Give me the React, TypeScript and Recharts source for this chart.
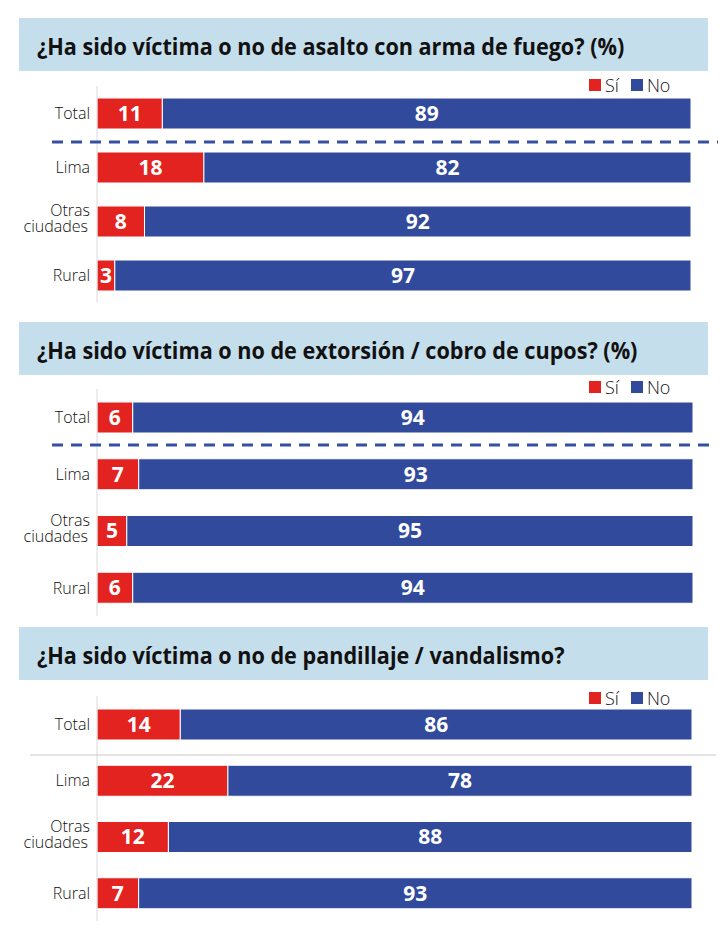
import React from 'react'
import { BarChart, Bar, XAxis, YAxis, LabelList } from 'recharts'

const RED = '#e3231f'
const BLUE = '#314a9b'
const BAND = '#c5deec'
const FONT = "'Open Sans', 'Noto Sans', sans-serif"

const categorias = ['Total', 'Lima', 'Otras ciudades', 'Rural']

const titulos = [
  '¿Ha sido víctima o no de asalto con arma de fuego? (%)',
  '¿Ha sido víctima o no de extorsión / cobro de cupos? (%)',
  '¿Ha sido víctima o no de pandillaje / vandalismo?',
]

const asaltoSi = [11, 18, 8, 3]
const asaltoNo = [89, 82, 92, 97]
const extorsionSi = [6, 7, 5, 6]
const extorsionNo = [94, 93, 95, 94]
const pandillajeSi = [14, 22, 12, 7]
const pandillajeNo = [86, 78, 88, 93]

const build = (si: number[], no: number[]) =>
  categorias.map((c, i) => ({ cat: c, si: si[i], no: no[i] }))

// layout of each panel (px)
const panels = [
  { data: build(asaltoSi, asaltoNo), band: 18, chartTop: 72, h: 235, mt: 14, mb: 5, mr: 35, sepY: 142, sep: 'dash', sepX1: 52, sepX2: 726, legendY: 73 },
  { data: build(extorsionSi, extorsionNo), band: 322, chartTop: 377, h: 250, mt: 12, mb: 11, mr: 33, sepY: 445, sep: 'dash', sepX1: 52, sepX2: 712, legendY: 375 },
  { data: build(pandillajeSi, pandillajeNo), band: 627, chartTop: 682, h: 245, mt: 14, mb: 6, mr: 34, sepY: 755, sep: 'solid', sepX1: 30, sepX2: 716, legendY: 686 },
]

function CatTick(props: any) {
  const { x, y, payload } = props
  const v: string = payload.value
  const tx = x + 1
  if (v === 'Otras ciudades') {
    return (
      <text x={tx} y={y} textAnchor="end" fontSize={16} fontWeight={300} fill="#111" fontFamily={FONT}>
        <tspan x={tx} dy={-5}>Otras</tspan>
        <tspan x={tx - 2} dy={16}>ciudades</tspan>
      </text>
    )
  }
  return (
    <text x={tx} y={y} dy={6} textAnchor="end" fontSize={16} fontWeight={300} fill="#111" fontFamily={FONT}>
      {v}
    </text>
  )
}

function Legenda({ top }: { top: number }) {
  const sq = { display: 'inline-block', width: 12, height: 12, marginRight: 4 }
  return (
    <div style={{ position: 'absolute', top, left: 589, fontFamily: FONT, fontWeight: 300, fontSize: 18, color: '#111', display: 'flex', alignItems: 'center' }}>
      <span style={{ ...sq, background: RED }} />
      <span style={{ marginRight: 12 }}>Sí</span>
      <span style={{ ...sq, background: BLUE }} />
      <span>No</span>
    </div>
  )
}

export default function App() {
  return (
    <div style={{ position: 'relative', width: 726, height: 933, margin: -8, background: '#fff', overflow: 'hidden' }}>
      {panels.map((p, i) => (
        <React.Fragment key={i}>
          <div style={{ position: 'absolute', left: 19, width: 689, top: p.band, height: 53, background: BAND }}>
            <div style={{ position: 'absolute', left: 18, top: 11, fontFamily: FONT, fontWeight: 'bold', fontSize: 24, color: '#111', whiteSpace: 'nowrap', transform: 'scaleX(0.9)', transformOrigin: 'left center' }}>
              {titulos[i]}
            </div>
          </div>
          <Legenda top={p.legendY} />
          <div style={{ position: 'absolute', left: 0, top: p.chartTop }}>
            <BarChart width={726} height={p.h} data={p.data} layout="vertical" barSize={31}
              margin={{ top: p.mt, right: p.mr, bottom: p.mb, left: 0 }}>
              <XAxis type="number" domain={[0, 100]} hide />
              <YAxis type="category" dataKey="cat" width={97} axisLine={{ stroke: '#d9d9d9' }}
                tickLine={false} tick={<CatTick />} interval={0} />
              <Bar dataKey="si" stackId="a" fill={RED} stroke="#fff" strokeWidth={1} isAnimationActive={false}>
                <LabelList dataKey="si" position="center" fill="#fff" fontSize={21} fontWeight="bold" fontFamily={FONT} />
              </Bar>
              <Bar dataKey="no" stackId="a" fill={BLUE} stroke="#fff" strokeWidth={1} isAnimationActive={false}>
                <LabelList dataKey="no" position="center" fill="#fff" fontSize={21} fontWeight="bold" fontFamily={FONT} />
              </Bar>
            </BarChart>
          </div>
          <svg style={{ position: 'absolute', left: 0, top: p.sepY - 3 }} width={726} height={6}>
            {p.sep === 'dash' ? (
              <line x1={p.sepX1} x2={p.sepX2} y1={3} y2={3} stroke="#3550a3" strokeWidth={3} strokeDasharray="11 8" />
            ) : (
              <line x1={p.sepX1} x2={p.sepX2} y1={3} y2={3} stroke="#c8c8c8" strokeWidth={1} />
            )}
          </svg>
        </React.Fragment>
      ))}
    </div>
  )
}
